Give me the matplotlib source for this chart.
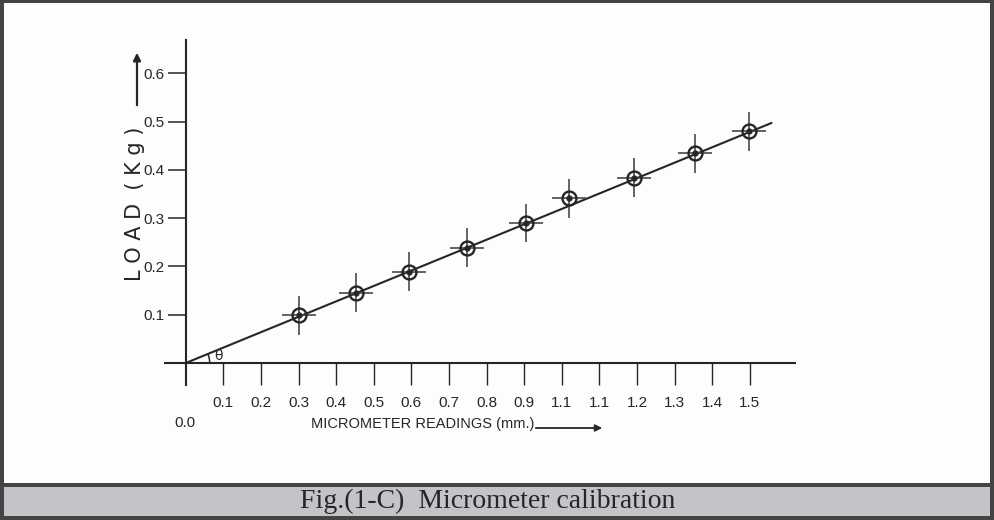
import numpy as np
import matplotlib
matplotlib.use("Agg")
import matplotlib.pyplot as plt
from matplotlib.patches import Rectangle, Arc, FancyArrowPatch
from matplotlib import font_manager

# ---- data ----
readings_mm = [0.302, 0.453, 0.594, 0.749, 0.904, 1.020, 1.193, 1.355, 1.498]
load_kg = [0.099, 0.146, 0.189, 0.239, 0.290, 0.341, 0.384, 0.434, 0.480]
xerr_mm = 0.045
yerr_kg = 0.040
fit_x = [0.0, 1.557]
fit_y = [0.0, 0.497]
xtick_vals = [0.1, 0.2, 0.3, 0.4, 0.5, 0.6, 0.7, 0.8, 0.9, 1.0, 1.1, 1.2, 1.3, 1.4, 1.5]
xtick_labels = ["0.1", "0.2", "0.3", "0.4", "0.5", "0.6", "0.7", "0.8", "0.9",
                "1.1", "1.1", "1.2", "1.3", "1.4", "1.5"]
ytick_vals = [0.1, 0.2, 0.3, 0.4, 0.5, 0.6]
ytick_labels = ["0.1", "0.2", "0.3", "0.4", "0.5", "0.6"]

names = {f.name for f in font_manager.fontManager.ttflist}
narrow = "Liberation Sans Narrow" if "Liberation Sans Narrow" in names else "Liberation Sans"
serif = "Liberation Serif" if "Liberation Serif" in names else "DejaVu Serif"

W, H = 995, 520
fig = plt.figure(figsize=(W / 100, H / 100), dpi=100)
fig.patch.set_facecolor("#fdfdfd")

def fx(px):
    return px / W

def fy(py):
    return 1 - py / H

ink = "#262626"

# axes: pixel extent left 165, right 795, top 40, bottom 385
ax = fig.add_axes([fx(165), fy(385), (795 - 165) / W, (385 - 40) / H])
ax.set_facecolor("none")
ax.set_xlim(-0.055, 1.620)
ax.set_ylim(-0.0455, 0.669)

for s in ["top", "right"]:
    ax.spines[s].set_visible(False)
ax.spines["left"].set_position(("data", 0))
ax.spines["bottom"].set_position(("data", 0))
for s in ["left", "bottom"]:
    ax.spines[s].set_color(ink)
    ax.spines[s].set_linewidth(1.5)

ax.set_xticks(xtick_vals)
ax.set_xticklabels(xtick_labels, fontsize=11, family=narrow, color=ink)
ax.set_yticks(ytick_vals)
ax.set_yticklabels(ytick_labels, fontsize=11, family=narrow, color=ink)
ax.tick_params(axis="x", direction="out", length=16, width=1.0, color=ink, pad=8)
ax.tick_params(axis="y", direction="out", length=13, width=1.1, color=ink, pad=2)

# fitted line
ax.plot(fit_x, fit_y, color=ink, lw=1.5, zorder=2)

# error bars (cross hairs)
ax.errorbar(readings_mm, load_kg, xerr=xerr_mm, yerr=yerr_kg, fmt="none",
            ecolor="#4a4a4a", elinewidth=1.2, capsize=0, zorder=3)
# open circles with centre dot
ax.plot(readings_mm, load_kg, ls="none", marker="o", ms=10, mfc="none",
        mec=ink, mew=1.7, zorder=4)
ax.plot(readings_mm, load_kg, ls="none", marker="o", ms=3.5, mfc=ink,
        mec=ink, zorder=5)

# theta arc
slope_deg = np.degrees(np.arctan2(fit_y[1], fit_x[1]))
ax.add_patch(Arc((0, 0), width=2 * 24 / 376, height=2 * 24 / 483,
                 theta1=0, theta2=slope_deg, color=ink, lw=1.1))
fig.text(fx(219), fy(356), "θ", fontsize=10, color=ink, ha="center", va="center",
         family="DejaVu Sans")

# origin label
fig.text(fx(185), fy(423), "0.0", fontsize=11, family=narrow, color=ink,
         ha="center", va="center")

# x axis title with arrow
fig.text(fx(423), fy(424), "MICROMETER READINGS (mm.)", fontsize=10.5,
         family=narrow, color=ink, ha="center", va="center")
fig.add_artist(FancyArrowPatch(
    (fx(533), fy(428)), (fx(605), fy(428)), transform=fig.transFigure,
    arrowstyle="-|>", mutation_scale=10, color=ink, lw=1.3))

# y axis title with arrow
fig.text(fx(135), fy(204), "L O A D  ( K g )", fontsize=15, family="DejaVu Sans",
         color=ink, rotation=90, ha="center", va="center")
fig.add_artist(FancyArrowPatch(
    (fx(137), fy(108)), (fx(137), fy(50)), transform=fig.transFigure,
    arrowstyle="-|>", mutation_scale=11, color=ink, lw=1.6))

# caption band and frame
fig.add_artist(Rectangle((0, fy(516)), 1, (516 - 486) / H, transform=fig.transFigure,
                         facecolor="#c3c4c8", edgecolor="none", zorder=0))
fig.add_artist(Rectangle((0, fy(487)), 1, 4 / H, transform=fig.transFigure,
                         facecolor="#454545", edgecolor="none"))
fig.text(0.49, fy(501), "Fig.(1-C)  Micrometer calibration", fontsize=20,
         family=serif, color="#262626", ha="center", va="center")
# outer border
fig.add_artist(Rectangle((0, 0), 4 / W, 1, transform=fig.transFigure,
                         facecolor="#444444", edgecolor="none"))
fig.add_artist(Rectangle((1 - 5 / W, 0), 5 / W, 1, transform=fig.transFigure,
                         facecolor="#444444", edgecolor="none"))
fig.add_artist(Rectangle((0, 1 - 3 / H), 1, 3 / H, transform=fig.transFigure,
                         facecolor="#444444", edgecolor="none"))
fig.add_artist(Rectangle((0, 0), 1, 4 / H, transform=fig.transFigure,
                         facecolor="#444444", edgecolor="none"))

fig.savefig("out.png", dpi=100, facecolor=fig.get_facecolor())
